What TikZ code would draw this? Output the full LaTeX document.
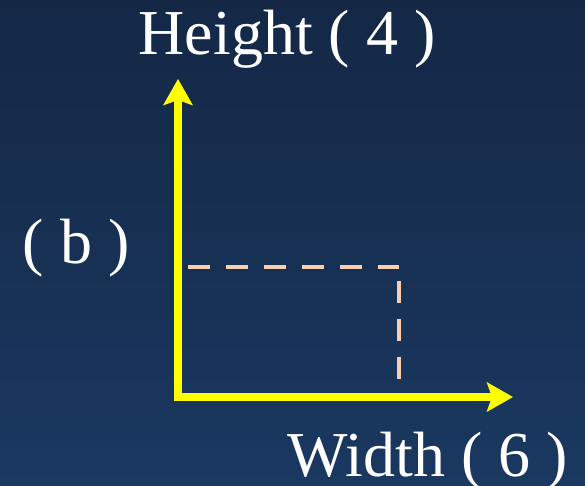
\documentclass[tikz,border=0pt]{standalone}
\usepackage{fontspec}
\setmainfont{Liberation Serif}
\usepackage{tikz}
\usetikzlibrary{arrows.meta,positioning}
\definecolor{bgtop}{HTML}{142846}
\definecolor{bgbot}{HTML}{1A3860}
\definecolor{axisyellow}{HTML}{FFFF00}
\definecolor{peach}{HTML}{F8CFB0}

\begin{document}
\begin{tikzpicture}[x=1pt,y=1pt,
  every node/.style={text=white,font=\fontsize{64}{72}\selectfont,inner sep=0pt},
  axis/.style={draw=axisyellow,line width=7.5pt,-{Stealth[length=26pt,width=29pt,inset=5pt]}},
  guide/.style={draw=peach,line width=4.5pt,dash pattern=on 22pt off 16pt}]
  \fill[top color=bgtop,bottom color=bgbot] (0,0) rectangle (585,485);
  \useasboundingbox (0,0) rectangle (585,485);
  % axes
  \coordinate (origin) at (178,88);
  \coordinate (ytip) at (178,406);
  \coordinate (xtip) at (513,88);
  \draw[axis] ([yshift=-3.75pt]origin) -- (ytip);
  \draw[axis] ([xshift=-3.75pt]origin) -- (xtip);
  % guide lines
  \coordinate (hstart) at (188,218);
  \coordinate (corner) at (399,218);
  \coordinate (vstart) at (399,204);
  \coordinate (vend) at (399,106);
  \draw[guide] (hstart) -- (corner);
  \draw[guide] (vstart) -- (vend);
  % labels
  \node[anchor=base] (height) at (287,430) {Height ( 4 )};
  \node[anchor=base] (width) at (428,9) {Width ( 6 )};
  \node[anchor=base] (b) at (76,222) {( b )};
\end{tikzpicture}
\end{document}
